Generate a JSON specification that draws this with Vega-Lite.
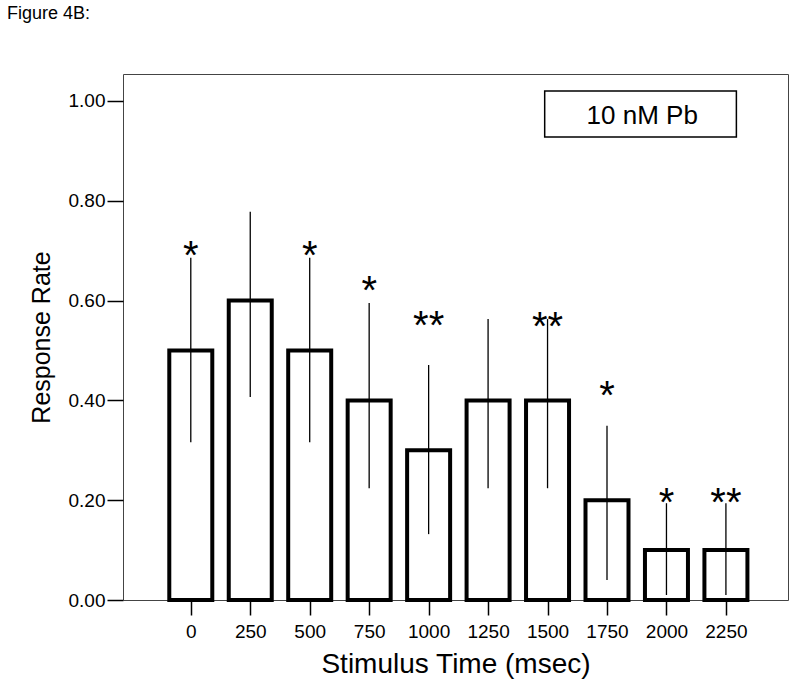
{
  "$schema": "https://vega.github.io/schema/vega-lite/v6.json",
  "autosize": "none",
  "width": 665,
  "height": 526,
  "padding": {"left": 123, "top": 74, "right": 12, "bottom": 89},
  "background": "white",
  "title": {"text": "Figure 4B:", "anchor": "start", "frame": "group", "orient": "top", "dx": -116, "offset": 37, "baseline": "alphabetic", "font": "Liberation Sans", "fontSize": 18, "fontWeight": "normal", "color": "black"},
  "config": {
    "view": {"stroke": "#444", "strokeWidth": 1},
    "font": "Liberation Sans",
    "axisY": {"domain": false, "grid": false, "tickColor": "black", "tickWidth": 1.5, "tickSize": 16, "labelFont": "Liberation Sans", "labelFontSize": 19, "labelColor": "black", "labelPadding": 2, "titleFont": "Liberation Sans", "titleFontSize": 25, "titleFontWeight": "normal", "titleColor": "black", "titlePadding": 14},
    "axisX": {"domain": false, "grid": false, "tickColor": "black", "tickWidth": 1.5, "tickSize": 15, "labelFont": "Liberation Sans", "labelFontSize": 19, "labelColor": "black", "labelPadding": 7, "titleFont": "Liberation Sans", "titleFontSize": 28, "titleFontWeight": "normal", "titleColor": "black", "titlePadding": 9}
  },
  "datasets": {
    "bars": [
      {"time": 0, "rate": 0.5, "lo": 0.316, "hi": 0.686, "star": "*", "star_y": 0.705},
      {"time": 250, "rate": 0.6, "lo": 0.407, "hi": 0.778, "star": "", "star_y": null},
      {"time": 500, "rate": 0.5, "lo": 0.316, "hi": 0.686, "star": "*", "star_y": 0.705},
      {"time": 750, "rate": 0.4, "lo": 0.224, "hi": 0.595, "star": "*", "star_y": 0.636},
      {"time": 1000, "rate": 0.3, "lo": 0.132, "hi": 0.471, "star": "**", "star_y": 0.566},
      {"time": 1250, "rate": 0.4, "lo": 0.224, "hi": 0.563, "star": "", "star_y": null},
      {"time": 1500, "rate": 0.4, "lo": 0.224, "hi": 0.563, "star": "**", "star_y": 0.563},
      {"time": 1750, "rate": 0.2, "lo": 0.040, "hi": 0.349, "star": "*", "star_y": 0.425},
      {"time": 2000, "rate": 0.1, "lo": 0.010, "hi": 0.194, "star": "*", "star_y": 0.210},
      {"time": 2250, "rate": 0.1, "lo": 0.010, "hi": 0.194, "star": "**", "star_y": 0.210}
    ],
    "legendbox": [
      {"x1": 1488, "x2": 2294, "y1": 0.928, "y2": 1.020, "label": "10 nM Pb", "tx": 1898, "ty": 0.954}
    ]
  },
  "layer": [
    {
      "data": {"name": "legendbox"},
      "mark": {"type": "rect", "fill": "white", "stroke": "black", "strokeWidth": 1.5},
      "encoding": {
        "x": {"field": "x1", "type": "quantitative", "title": "Stimulus Time (msec)", "scale": {"domain": [-264, 2490], "nice": false, "zero": false}, "axis": {"values": [0, 250, 500, 750, 1000, 1250, 1500, 1750, 2000, 2250], "format": "d"}},
        "x2": {"field": "x2"},
        "y": {"field": "y1", "type": "quantitative", "title": "Response Rate", "scale": {"domain": [0, 1.0541], "nice": false, "zero": true}, "axis": {"values": [0, 0.2, 0.4, 0.6, 0.8, 1.0], "format": ".2f"}},
        "y2": {"field": "y2"}
      }
    },
    {
      "data": {"name": "legendbox"},
      "mark": {"type": "text", "font": "Liberation Sans", "fontSize": 26, "color": "black", "baseline": "alphabetic", "align": "center"},
      "encoding": {
        "x": {"field": "tx", "type": "quantitative", "title": "Stimulus Time (msec)", "scale": {"domain": [-264, 2490], "nice": false, "zero": false}},
        "y": {"field": "ty", "type": "quantitative", "title": "Response Rate", "scale": {"domain": [0, 1.0541], "nice": false, "zero": true}},
        "text": {"field": "label"}
      }
    },
    {
      "data": {"name": "bars"},
      "mark": {"type": "bar", "width": 43, "fill": "white", "stroke": "black", "strokeWidth": 4},
      "encoding": {
        "x": {"field": "time", "type": "quantitative", "title": "Stimulus Time (msec)", "scale": {"domain": [-264, 2490], "nice": false, "zero": false}},
        "y": {"field": "rate", "type": "quantitative", "title": "Response Rate", "scale": {"domain": [0, 1.0541], "nice": false, "zero": true}}
      }
    },
    {
      "data": {"name": "bars"},
      "mark": {"type": "rule", "color": "black", "strokeWidth": 1.3},
      "encoding": {
        "x": {"field": "time", "type": "quantitative", "title": "Stimulus Time (msec)", "scale": {"domain": [-264, 2490], "nice": false, "zero": false}},
        "y": {"field": "lo", "type": "quantitative", "title": "Response Rate", "scale": {"domain": [0, 1.0541], "nice": false, "zero": true}},
        "y2": {"field": "hi"}
      }
    },
    {
      "data": {"name": "bars"},
      "mark": {"type": "text", "font": "Liberation Sans", "fontSize": 40, "color": "black", "baseline": "alphabetic", "align": "center", "dy": 21},
      "encoding": {
        "x": {"field": "time", "type": "quantitative", "title": "Stimulus Time (msec)", "scale": {"domain": [-264, 2490], "nice": false, "zero": false}},
        "y": {"field": "star_y", "type": "quantitative", "title": "Response Rate", "scale": {"domain": [0, 1.0541], "nice": false, "zero": true}},
        "text": {"field": "star"}
      }
    }
  ]
}
